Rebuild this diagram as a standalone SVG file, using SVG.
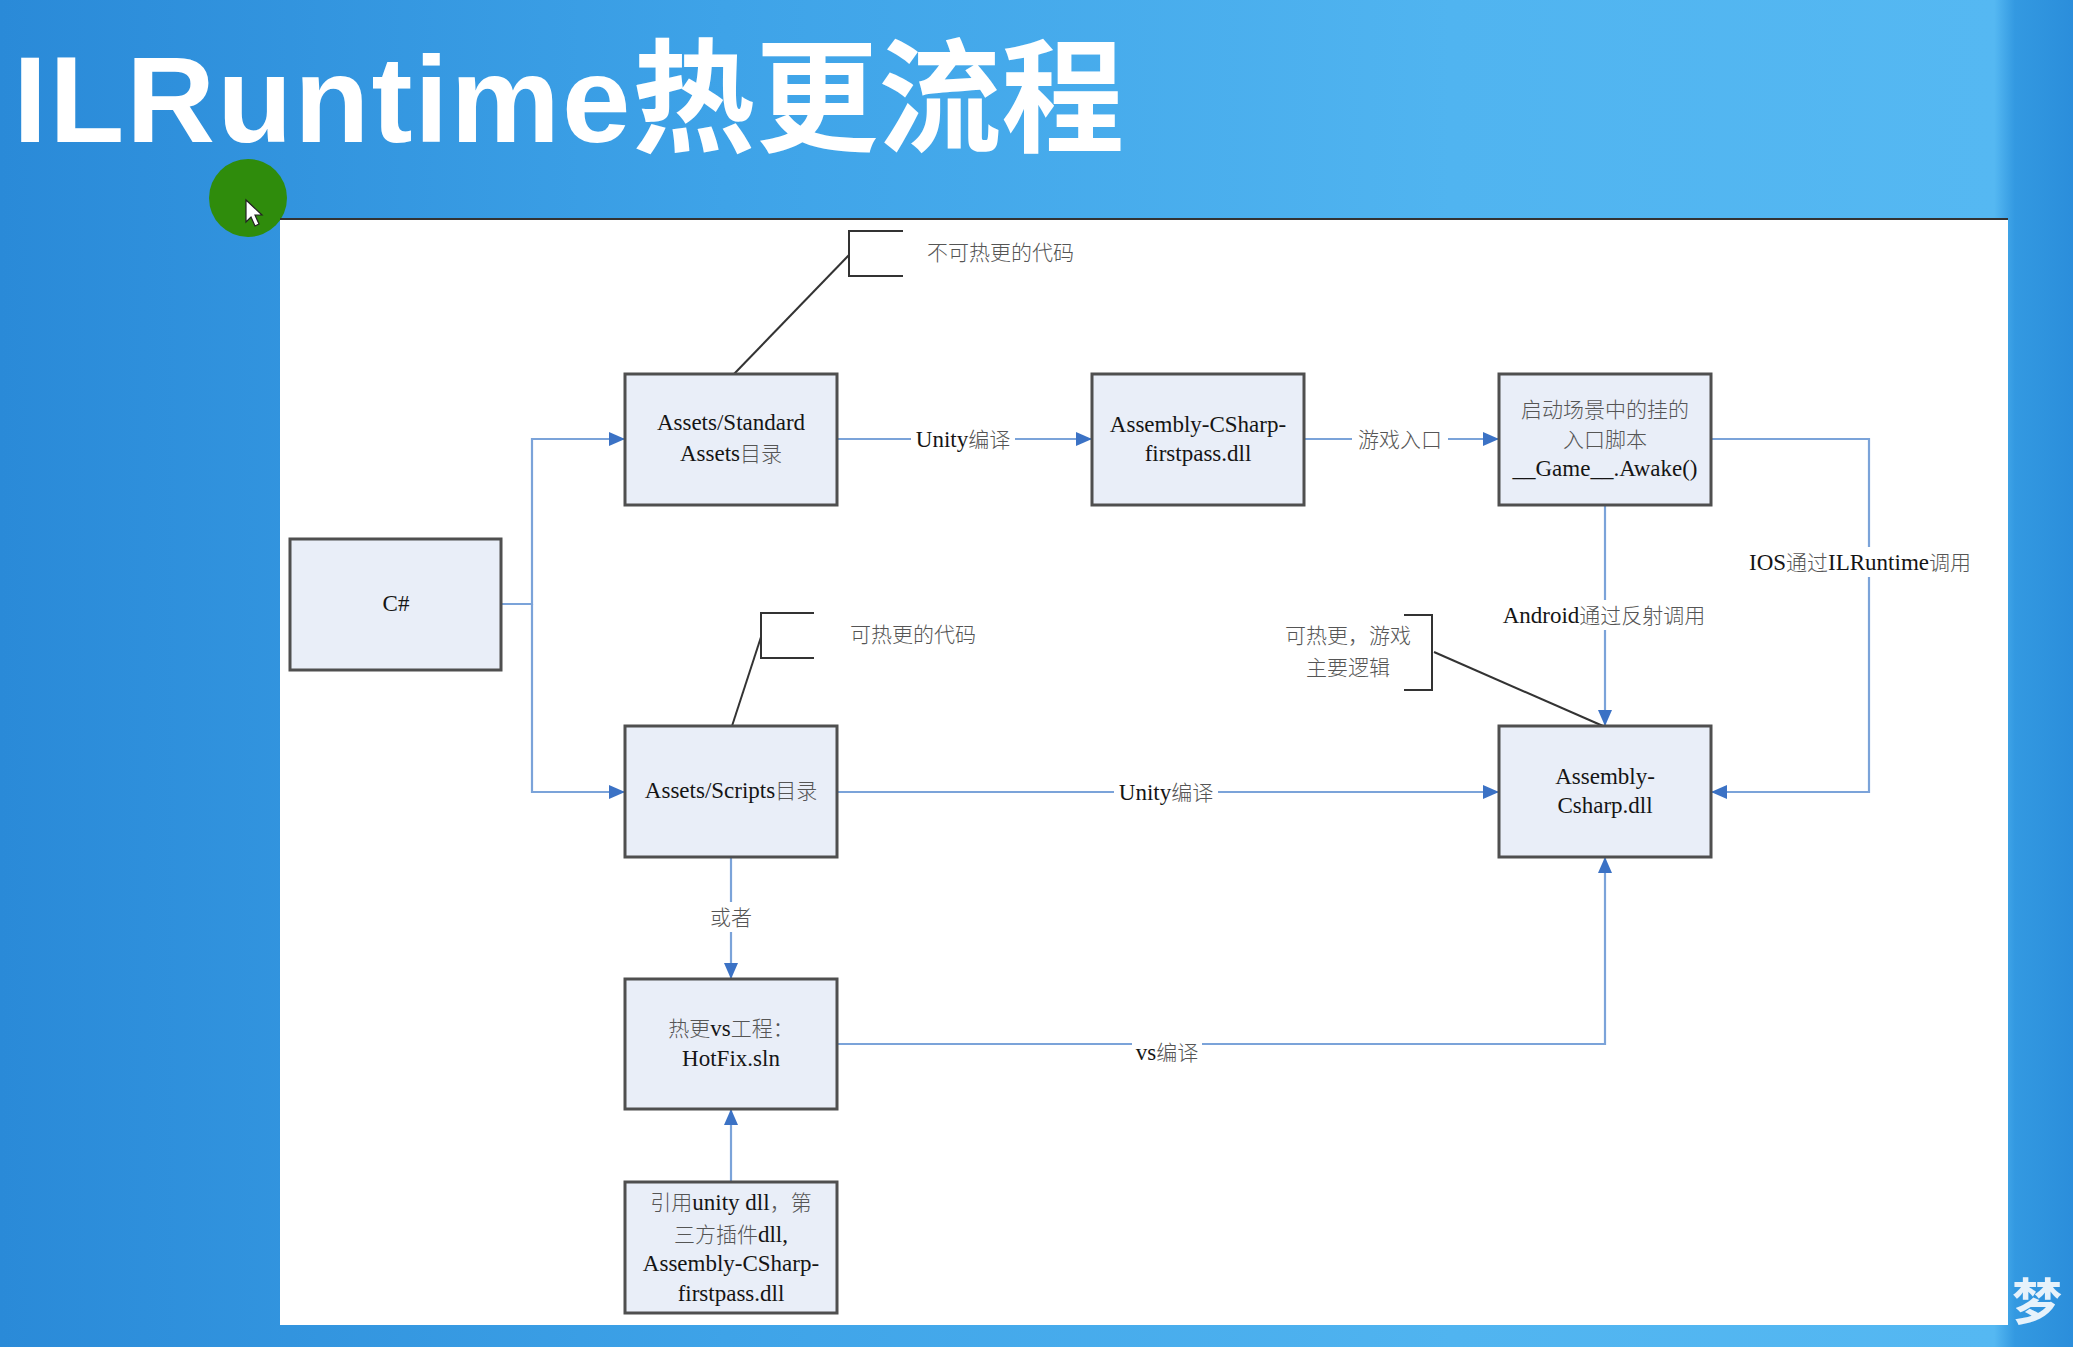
<svg xmlns="http://www.w3.org/2000/svg" width="2073" height="1347" viewBox="0 0 2073 1347">
<defs>
<linearGradient id="bg" x1="0" y1="0" x2="1" y2="0">
<stop offset="0" stop-color="#2a8ad8"/>
<stop offset="0.35" stop-color="#3ea3e8"/>
<stop offset="0.7" stop-color="#50b4f0"/>
<stop offset="0.962" stop-color="#55b8f2"/>
<stop offset="0.972" stop-color="#3399e1"/>
<stop offset="1" stop-color="#2b8edb"/>
</linearGradient>
<marker id="arr" markerWidth="17" markerHeight="14" refX="16" refY="7" orient="auto" markerUnits="userSpaceOnUse">
<path d="M0,0 L16,7 L0,14 Z" fill="#3b72c5"/>
</marker>
<style>
.box{fill:#e9eef8;stroke:#4f4f4f;stroke-width:3}
.t{font-family:"Liberation Serif","Noto Sans CJK SC",serif;font-size:23px;fill:#151515;text-anchor:middle}
.ts{text-anchor:start}
.cj{fill:#555;font-family:"Noto Sans CJK SC",sans-serif;font-weight:300;font-size:21px}
.con{fill:none;stroke:#7ba3d9;stroke-width:2.2}
.arrow{marker-end:url(#arr)}
.ann{fill:none;stroke:#333;stroke-width:2}
.lbg{fill:#fff}
</style>
</defs>
<rect x="0" y="0" width="2073" height="1347" fill="url(#bg)"/>
<g id="title">
<text x="13" y="142" font-family="'Liberation Sans','Noto Sans CJK SC',sans-serif" font-weight="bold" font-size="123" fill="#fff"><tspan letter-spacing="2">ILRuntime</tspan><tspan font-family="'Noto Sans CJK SC',sans-serif">热更流程</tspan></text>
</g>
<g id="cursor">
<circle cx="248" cy="198" r="39" fill="#2f8c0c"/>
<path d="M246,200 L246,222 L251,217 L255,226 L259,224 L255,215 L262,215 Z" fill="#fff" stroke="#222" stroke-width="1.2"/>
</g>
<g id="panel">
<rect x="280" y="219" width="1728" height="1106" fill="#fff"/>
<line x1="280" y1="219" x2="2008" y2="219" stroke="#333" stroke-width="2"/>
</g>
<g id="watermark">
<text x="2012" y="1320" font-family="'Noto Sans CJK SC',sans-serif" font-weight="bold" font-size="50" fill="#e6f2fb">梦</text>
</g>
<g id="connectors">
<path class="con arrow" d="M501,604 H532 V439 H625"/>
<path class="con arrow" d="M532,604 V792 H625"/>
<path class="con arrow" d="M837,439 H1092"/>
<path class="con arrow" d="M1304,439 H1499"/>
<path class="con arrow" d="M1605,505 V726"/>
<path class="con arrow" d="M1711,439 H1869 V792 H1711"/>
<path class="con arrow" d="M837,792 H1499"/>
<path class="con arrow" d="M731,857 V979"/>
<path class="con arrow" d="M837,1044 H1605 V857"/>
<path class="con arrow" d="M731,1182 V1109"/>
<rect class="lbg" x="911" y="425" width="104" height="28"/>
<text class="t" x="963" y="447">Unity<tspan class="cj">编译</tspan></text>
<rect class="lbg" x="1352" y="425" width="96" height="28"/>
<text class="t" x="1400" y="447"><tspan class="cj">游戏入口</tspan></text>
<rect class="lbg" x="1492" y="600" width="222" height="30"/>
<text class="t" x="1604" y="623">Android<tspan class="cj">通过反射调用</tspan></text>
<rect class="lbg" x="1740" y="547" width="240" height="30"/>
<text class="t" x="1860" y="570">IOS<tspan class="cj">通过</tspan>ILRuntime<tspan class="cj">调用</tspan></text>
<rect class="lbg" x="1114" y="778" width="104" height="28"/>
<text class="t" x="1166" y="800">Unity<tspan class="cj">编译</tspan></text>
<rect class="lbg" x="707" y="902" width="48" height="30"/>
<text class="t" x="731" y="925"><tspan class="cj">或者</tspan></text>
<rect class="lbg" x="1132" y="1038" width="70" height="28"/>
<text class="t" x="1167" y="1060">vs<tspan class="cj">编译</tspan></text>
</g>
<g id="annotations">
<path class="ann" d="M734,374 L849,255"/>
<path class="ann" d="M903,231 H849 V276 H903"/>
<text class="t ts" x="927" y="260"><tspan class="cj">不可热更的代码</tspan></text>
<path class="ann" d="M732,726 L761,637"/>
<path class="ann" d="M814,613 H761 V658 H814"/>
<text class="t ts" x="850" y="642"><tspan class="cj">可热更的代码</tspan></text>
<path class="ann" d="M1603,726 L1434,652"/>
<path class="ann" d="M1404,615 H1432 V690 H1404"/>
<text class="t" x="1348" y="643"><tspan class="cj">可热更，游戏</tspan></text>
<text class="t" x="1348" y="675"><tspan class="cj">主要逻辑</tspan></text>
</g>
<g id="node-csharp">
<rect class="box" x="290" y="539" width="211" height="131"/>
<text class="t" x="396" y="611">C#</text>
</g>
<g id="node-standard-assets">
<rect class="box" x="625" y="374" width="212" height="131"/>
<text class="t" x="731" y="430">Assets/Standard</text>
<text class="t" x="731" y="461">Assets<tspan class="cj">目录</tspan></text>
</g>
<g id="node-firstpass">
<rect class="box" x="1092" y="374" width="212" height="131"/>
<text class="t" x="1198" y="432">Assembly-CSharp-</text>
<text class="t" x="1198" y="461">firstpass.dll</text>
</g>
<g id="node-entry">
<rect class="box" x="1499" y="374" width="212" height="131"/>
<text class="t" x="1605" y="417"><tspan class="cj">启动场景中的挂的</tspan></text>
<text class="t" x="1605" y="447"><tspan class="cj">入口脚本</tspan></text>
<text class="t" x="1605" y="476">__Game__.Awake()</text>
</g>
<g id="node-scripts">
<rect class="box" x="625" y="726" width="212" height="131"/>
<text class="t" x="731" y="798">Assets/Scripts<tspan class="cj">目录</tspan></text>
</g>
<g id="node-assembly-csharp">
<rect class="box" x="1499" y="726" width="212" height="131"/>
<text class="t" x="1605" y="784">Assembly-</text>
<text class="t" x="1605" y="813">Csharp.dll</text>
</g>
<g id="node-hotfix">
<rect class="box" x="625" y="979" width="212" height="130"/>
<text class="t" x="731" y="1036"><tspan class="cj">热更</tspan>vs<tspan class="cj">工程：</tspan></text>
<text class="t" x="731" y="1066">HotFix.sln</text>
</g>
<g id="node-refs">
<rect class="box" x="625" y="1182" width="212" height="131"/>
<text class="t" x="731" y="1210"><tspan class="cj">引用</tspan>unity dll<tspan class="cj">，第</tspan></text>
<text class="t" x="731" y="1242"><tspan class="cj">三方插件</tspan>dll,</text>
<text class="t" x="731" y="1271">Assembly-CSharp-</text>
<text class="t" x="731" y="1301">firstpass.dll</text>
</g>
</svg>
